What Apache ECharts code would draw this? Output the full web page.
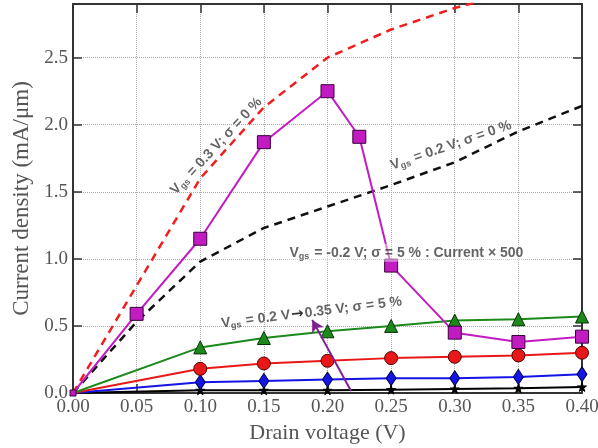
<!DOCTYPE html>
<html>
<head>
<meta charset="utf-8">
<script src="https://cdn.jsdelivr.net/npm/echarts@6/dist/echarts.min.js"></script>
<style>
  html, body { margin: 0; padding: 0; background: #fff; }
  #chart { width: 598px; height: 448px; }
</style>
</head>
<body>
<div id="chart"></div>
<script>
// drain voltage (V)
const voltage = [0, 0.05, 0.10, 0.15, 0.20, 0.25, 0.30, 0.35, 0.40]
// ideal devices, sigma = 0 %
const vgs03Ideal = [0, 0.80, 1.60, 2.13, 2.50, 2.71, 2.87, 3.00, 3.10]
const vgs02Ideal = [0, 0.53, 0.98, 1.23, 1.39, 1.55, 1.72, 1.95, 2.14]
// Vgs = -0.2 V, sigma = 5 %, current x 500
const negVoltage = [0, 0.05, 0.10, 0.15, 0.20, 0.225, 0.25, 0.30, 0.35, 0.40]
const vgsNeg02 = [0, 0.59, 1.15, 1.87, 2.25, 1.91, 0.95, 0.45, 0.38, 0.42]
// Vgs = 0.2 V -> 0.35 V, sigma = 5 %
const varVoltage = [0, 0.10, 0.15, 0.20, 0.25, 0.30, 0.35, 0.40]
const vgs035 = [0, 0.34, 0.41, 0.46, 0.50, 0.54, 0.55, 0.57]
const vgs030 = [0, 0.18, 0.22, 0.24, 0.26, 0.27, 0.28, 0.30]
const vgs025 = [0, 0.08, 0.09, 0.10, 0.11, 0.11, 0.12, 0.14]
const vgs020 = [0, 0.02, 0.02, 0.02, 0.025, 0.03, 0.035, 0.045]

const xTicks = ['0.00', '0.05', '0.10', '0.15', '0.20', '0.25', '0.30', '0.35', '0.40']
const yTicks = ['0.0', '0.5', '1.0', '1.5', '2.0', '2.5']

const pair = (xs, ys) => xs.map((x, i) => [x, ys[i]])

const serif = 'Liberation Serif'
const sans = 'Liberation Sans'
const frame = '#333'

// 注释文字的样式
const noteRich = {
  s: { fontSize: 9, fontWeight: 'bold', color: '#3d3d3d', fontFamily: sans, padding: [7, 1, 0, 0] },
  a: { fontSize: 15, fontWeight: 'bold', color: '#000', fontFamily: 'DejaVu Sans', padding: [0, 1, 0, 1] }
}

function note (x, y, text, rotate, bg) {
  return {
    value: [x, y],
    label: {
      show: true,
      rotate: rotate,
      formatter: text,
      backgroundColor: bg || 'transparent',
      padding: bg ? [1, 2] : 0
    }
  }
}

function frameAxis (pos, max, isX) {
  return {
    type: 'value',
    position: pos,
    min: 0,
    max: max,
    interval: isX ? 0.05 : 0.5,
    axisLine: { show: true, onZero: false, lineStyle: { color: frame, width: 2 } },
    axisTick: { show: true, inside: true, length: 9, lineStyle: { color: frame, width: 1.5 } },
    axisLabel: { show: false },
    splitLine: { show: false }
  }
}

function lineSeries (data, color, symbol, size, border, originSize) {
  return {
    type: 'line',
    data: data,
    symbol: symbol,
    // 原点处的标记很小
    symbolSize: v => (v[0] === 0 ? (originSize || 0) : size),
    showSymbol: true,
    lineStyle: { color: color, width: 2 },
    itemStyle: { color: color, borderColor: border, borderWidth: 1 },
    silent: true,
    animation: false
  }
}

const chart = echarts.init(document.getElementById('chart'))
chart.setOption({
  backgroundColor: '#fff',
  animation: false,
  grid: { left: 73, right: 16, top: 4, bottom: 55, outerBoundsMode: 'none' },
  xAxis: [
    {
      type: 'value',
      position: 'bottom',
      min: 0,
      max: 0.4,
      interval: 0.05,
      axisLine: { show: true, onZero: false, lineStyle: { color: frame, width: 2 } },
      axisTick: { show: true, inside: true, length: 9, lineStyle: { color: frame, width: 1.5 } },
      axisLabel: {
        formatter: v => xTicks[Math.round(v / 0.05)] || '',
        fontFamily: serif,
        fontSize: 19,
        color: '#555',
        margin: 5
      },
      splitLine: { show: true, lineStyle: { type: 'dotted', color: '#aaa', width: 1 } },
      name: 'Drain voltage (V)',
      nameLocation: 'middle',
      nameGap: 26,
      nameTextStyle: { fontFamily: serif, fontSize: 22, color: '#555' }
    },
    frameAxis('top', 0.4, true)
  ],
  yAxis: [
    {
      type: 'value',
      position: 'left',
      min: 0,
      max: 2.9,
      interval: 0.5,
      axisLine: { show: true, onZero: false, lineStyle: { color: frame, width: 2 } },
      axisTick: { show: true, inside: true, length: 9, lineStyle: { color: frame, width: 1.5 } },
      axisLabel: {
        formatter: v => {
          const k = Math.round(v / 0.5)
          return Math.abs(v - k * 0.5) < 1e-6 ? (yTicks[k] || '') : ''
        },
        fontFamily: serif,
        fontSize: 19,
        color: '#555',
        margin: 5
      },
      splitLine: { show: true, lineStyle: { type: 'dotted', color: '#aaa', width: 1 } },
      name: 'Current density (mA/μm)',
      nameLocation: 'middle',
      nameGap: 40,
      nameTextStyle: { fontFamily: serif, fontSize: 23, color: '#555' }
    },
    frameAxis('right', 2.9, false)
  ],
  series: [
    {
      type: 'line',
      data: pair(voltage, vgs03Ideal),
      showSymbol: false,
      symbol: 'none',
      lineStyle: { color: '#f21d1d', width: 2.5, type: [8, 6] },
      clip: true,
      silent: true
    },
    {
      type: 'line',
      data: pair(voltage, vgs02Ideal),
      showSymbol: false,
      symbol: 'none',
      lineStyle: { color: '#111', width: 2.5, type: [8, 6] },
      clip: true,
      silent: true
    },
    lineSeries(pair(varVoltage, vgs020), '#000',
      'path://M50,0 L61,35 L98,35 L68,57 L79,91 L50,70 L21,91 L32,57 L2,35 L39,35 Z', 9, '#000'),
    lineSeries(pair(varVoltage, vgs025), '#1414e6', 'diamond', [10, 15], '#000040'),
    lineSeries(pair(varVoltage, vgs030), '#e81818', 'circle', 13, '#500000'),
    lineSeries(pair(varVoltage, vgs035), '#1b8a1b', 'triangle', 13, '#0a300a'),
    lineSeries(pair(negVoltage, vgsNeg02), '#c21bc2', 'rect', 13, '#3a003a', 6),
    {
      // 注释和箭头
      type: 'scatter',
      symbolSize: 0,
      silent: true,
      z: 5,
      label: {
        show: true,
        position: 'inside',
        align: 'center',
        verticalAlign: 'middle',
        fontFamily: sans,
        fontWeight: 'bold',
        fontSize: 14,
        color: '#3d3d3d',
        rich: noteRich
      },
      data: [
        note(0.1126, 1.84, 'V{s|gs} = 0.3 V; σ = 0 %', 47),
        note(0.297, 1.845, 'V{s|gs} = 0.2 V; σ = 0 %', 19),
        note(0.262, 1.045, 'V{s|gs} = -0.2 V; σ = 5 % : Current × 500', 0, 'rgba(255,255,255,0.55)'),
        note(0.1875, 0.60, 'V{s|gs} = 0.2 V{a|→}0.35 V; σ = 5 %', 7)
      ],
      markLine: {
        silent: true,
        symbol: ['none', 'arrow'],
        symbolSize: [10, 12],
        label: { show: false },
        lineStyle: { color: '#7d1f8f', width: 2, type: 'solid' },
        data: [[{ coord: [0.2185, 0.015] }, { coord: [0.188, 0.545] }]]
      }
    }
  ]
})
</script>
</body>
</html>
